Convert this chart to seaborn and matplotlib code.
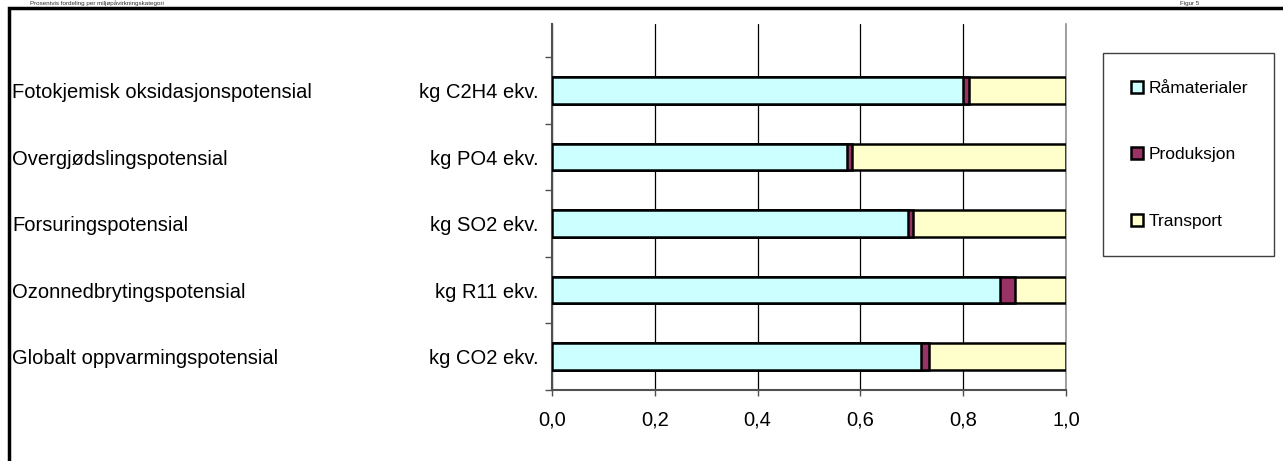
import matplotlib
matplotlib.use("Agg")
import matplotlib.pyplot as plt
import seaborn as sns
import pandas as pd
import numpy as np
from matplotlib.patches import Patch, Rectangle
from matplotlib.transforms import blended_transform_factory

# ---------------- data ----------------
categories = ["Fotokjemisk oksidasjonspotensial", "Overgjødslingspotensial",
              "Forsuringspotensial", "Ozonnedbrytingspotensial",
              "Globalt oppvarmingspotensial"]
units = ["kg C2H4 ekv.", "kg PO4 ekv.", "kg SO2 ekv.", "kg R11 ekv.", "kg CO2 ekv."]
raamaterialer = [0.799, 0.574, 0.693, 0.872, 0.717]
produksjon = [0.012, 0.009, 0.010, 0.029, 0.017]
transport = [0.189, 0.417, 0.297, 0.099, 0.266]
series_names = ["Råmaterialer", "Produksjon", "Transport"]
series_colors = ["#CCFFFF", "#993366", "#FFFFCC"]
xtick_values = [0.0, 0.2, 0.4, 0.6, 0.8, 1.0]
xtick_labels = ["0,0", "0,2", "0,4", "0,6", "0,8", "1,0"]
title_text = "Prosentvis fordeling per miljøpåvirkningskategori"
figure_tag = "Figur 5"

# ---------------- setup ----------------
sns.set_theme(style="white")
plt.rcParams["font.family"] = ["Liberation Sans", "DejaVu Sans"]

W, H = 1283, 461
fig = plt.figure(figsize=(W / 100, H / 100), dpi=100)
fig.patch.set_facecolor("white")
ax = fig.add_axes([552 / W, 1 - 390 / H, (1066 - 552) / W, (390 - 24) / H])

df = pd.DataFrame({"kategori": categories,
                   "Råmaterialer": raamaterialer,
                   "Produksjon": produksjon,
                   "Transport": transport})
df["c1"] = df["Råmaterialer"]
df["c2"] = df["c1"] + df["Produksjon"]
df["c3"] = df["c2"] + df["Transport"]

for col, color in zip(["c3", "c2", "c1"], series_colors[::-1]):
    sns.barplot(data=df, x=col, y="kategori", orient="h", color=color,
                width=0.4, edgecolor="black", linewidth=1.8, saturation=1,
                ax=ax, zorder=3)

ax.set_xlim(0, 1)
ax.set_ylim(4.5, -1.0)
ax.set_xlabel("")
ax.set_ylabel("")

# grid
ax.set_axisbelow(True)
ax.set_xticks(xtick_values)
ax.set_xticklabels(xtick_labels)
ax.xaxis.grid(True, color="black", linewidth=0.9)
ax.yaxis.grid(False)

# spines
ax.spines["top"].set_visible(False)
ax.spines["right"].set_color("#909090")
ax.spines["right"].set_linewidth(1.2)
for s in ["left", "bottom"]:
    ax.spines[s].set_color("#505050")
    ax.spines[s].set_linewidth(1.5)

# ticks
ax.set_yticks(np.arange(-0.5, 4.6, 1.0))
ax.set_yticklabels([])
ax.set_yticks(np.arange(len(units)), minor=True)
ax.set_yticklabels(units, minor=True)
ax.tick_params(axis="y", which="major", length=5, width=1, color="#505050",
               direction="out", left=True)
ax.tick_params(axis="y", which="minor", length=0, pad=9.5, labelsize=14.5,
               labelcolor="black")
ax.tick_params(axis="x", which="major", length=4.5, width=1, color="#505050",
               direction="out", bottom=True, pad=10, labelsize=14.5,
               labelcolor="black")

# category names
trans = blended_transform_factory(fig.transFigure, ax.transData)
for i, cat in enumerate(categories):
    ax.text(12 / W, i + 0.03, cat, transform=trans, ha="left", va="center",
            fontsize=14.5, color="black")

# legend
handles = [Patch(facecolor=c, edgecolor="black", linewidth=1.8) for c in series_colors]
leg = fig.legend(handles, series_names, loc="upper left",
                 bbox_to_anchor=(1103 / W, 1 - 249 / H, (1274 - 1103) / W, 196 / H),
                 mode="expand", borderaxespad=0, fontsize=12.5,
                 handlelength=0.7, handleheight=0.7, handletextpad=0.3,
                 labelspacing=2.95, borderpad=1.6, fancybox=False,
                 framealpha=1, edgecolor="#404040", labelcolor="black")
leg.get_frame().set_linewidth(1.0)

# outer frame
fig.add_artist(Rectangle((8.5 / W, -0.5), 2, (1 - 7.5 / H) + 0.5,
                         transform=fig.transFigure, fill=False,
                         edgecolor="black", linewidth=2.5))

# small header text above the frame
fig.text(30 / W, 1 - 0.5 / H, title_text, va="top", ha="left", fontsize=4.5,
         color="#303030")
fig.text(1180 / W, 1 - 0.5 / H, figure_tag, va="top", ha="left", fontsize=4.5,
         color="#303030")

fig.savefig("out.png", dpi=100, facecolor="white")
